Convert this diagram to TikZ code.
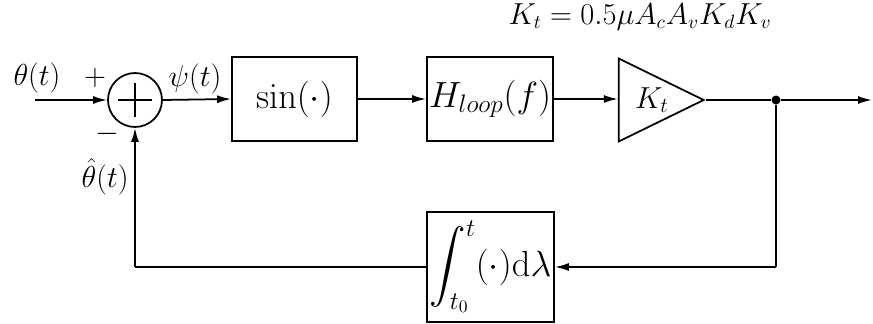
\documentclass[tikz,border=0pt]{standalone}
\usepackage{amsmath}
\usetikzlibrary{shapes.geometric,arrows.meta}
\begin{document}
\begin{tikzpicture}[x=0.02cm,y=-0.02cm,
  every node/.style={font=\fontsize{17.5pt}{20pt}\selectfont},
  blk/.style={draw,line width=1pt,rectangle,inner sep=0pt,font=\fontsize{20pt}{24pt}\selectfont},
  sig/.style={line width=1pt,-{Latex[length=0.28cm,width=0.16cm]}},
  wire/.style={line width=1pt},
  lbl/.style={inner sep=0pt}]
\useasboundingbox (0,0) rectangle (873,324);
\node[draw,circle,line width=1pt,minimum size=1.08cm,inner sep=0pt] (sum) at (135,100) {};
\draw[line width=1pt] ([yshift=-0.34cm]sum.center) -- ([yshift=0.34cm]sum.center)
  ([xshift=-0.34cm]sum.center) -- ([xshift=0.34cm]sum.center);
\node[blk,minimum width=2.5cm,minimum height=1.68cm] (sin) at (294.5,99) {$\sin(\cdot)$};
\node[blk,minimum width=2.52cm,minimum height=1.68cm] (hl) at (490,99) {$H_{loop}(f)$};
\node[draw,line width=1pt,isosceles triangle,isosceles triangle stretches,
  minimum width=1.66cm,minimum height=1.7cm,inner sep=0pt,anchor=apex] (kt) at (706,100) {};
\node[lbl,font=\fontsize{18pt}{21pt}\selectfont] (ktl) at (652,100) {$K_t$};
\node[blk,minimum width=2.54cm,minimum height=2.2cm] (int) at (490.5,267)
  {$\displaystyle\int_{t_0}^{t}(\cdot)\mathrm{d}\lambda$};
\node[circle,fill,inner sep=0pt,minimum size=0.18cm] (dot) at (776,100) {};
\coordinate (in) at (35,100);
\coordinate (out) at (872,100);
\coordinate (fbr) at (776,267);
\coordinate (fbl) at (135,267);
\node[lbl] (lth) at (37,78) {$\theta(t)$};
\node[lbl] (lplus) at (95,78) {$+$};
\node[lbl] (lminus) at (107,134) {$-$};
\node[lbl] (lpsi) at (195,79) {$\psi(t)$};
\node[lbl,anchor=east] (lthh) at (129,177) {$\hat\theta(t)$};
\node[lbl,font=\fontsize{16.3pt}{19pt}\selectfont] (form) at (640,17) {$K_t=0.5\mu A_cA_vK_dK_v$};
\draw[sig] (in) -- (sum.west);
\draw[sig] (sum.east) -- (sin.west);
\draw[sig] (sin.east) -- (hl.west);
\draw[sig] (hl.east) -- (kt.west |- hl.east);
\draw[wire] (kt.apex) -- (dot);
\draw[sig] (dot) -- (out);
\draw[wire] (dot) -- (fbr);
\draw[sig] (fbr) -- (int.east);
\draw[wire] (int.west) -- (fbl);
\draw[sig] (fbl) -- (sum.south);
\end{tikzpicture}
\end{document}
